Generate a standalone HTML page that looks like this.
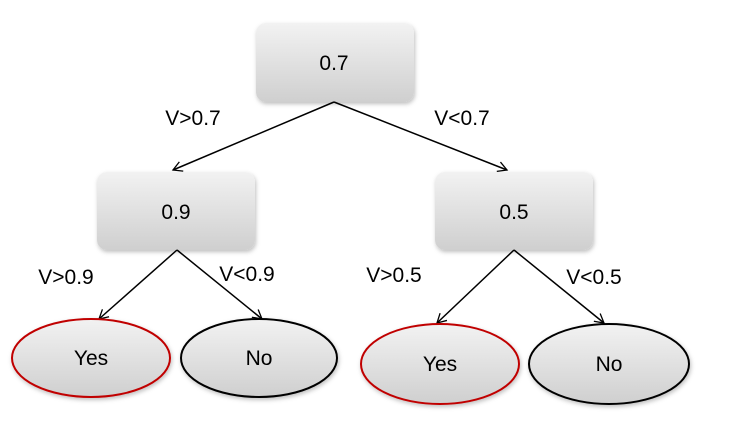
<!DOCTYPE html>
<html><head><style>body{margin:0;background:#fff}</style></head><body>
<svg width="729" height="428" viewBox="0 0 729 428" xmlns="http://www.w3.org/2000/svg" font-family="Liberation Sans, sans-serif">
<defs>
<linearGradient id="g" x1="0" y1="0" x2="0" y2="1"><stop offset="0" stop-color="#f2f2f2"/><stop offset="1" stop-color="#cfcfcf"/></linearGradient>
<filter id="s" x="-10%" y="-10%" width="130%" height="140%"><feDropShadow dx="1" dy="2" stdDeviation="2" flood-color="#000" flood-opacity="0.25"/></filter>
<marker id="a" markerWidth="12" markerHeight="12" refX="10" refY="6" orient="auto" markerUnits="userSpaceOnUse"><path d="M1,1 L10,6 L1,11" fill="none" stroke="#000" stroke-width="1.3"/></marker>
</defs>
<g filter="url(#s)">
<rect x="256" y="23" width="158" height="79" rx="10" fill="url(#g)"/>
<rect x="97" y="172" width="158" height="78" rx="10" fill="url(#g)"/>
<rect x="435" y="172" width="158" height="78" rx="10" fill="url(#g)"/>
</g>
<g stroke="#000" stroke-width="1.5" marker-end="url(#a)">
<line x1="334" y1="102" x2="173" y2="170"/>
<line x1="334" y1="102" x2="507" y2="170"/>
<line x1="177" y1="250" x2="99" y2="319"/>
<line x1="177" y1="250" x2="262" y2="319"/>
<line x1="514" y1="250" x2="437" y2="323"/>
<line x1="514" y1="250" x2="604" y2="323"/>
</g>
<g filter="url(#s)" stroke-width="2">
<ellipse cx="91" cy="358" rx="79" ry="39" fill="url(#g)" stroke="#c00000"/>
<ellipse cx="259" cy="358" rx="78" ry="39" fill="url(#g)" stroke="#000"/>
<ellipse cx="440" cy="364" rx="79" ry="40" fill="url(#g)" stroke="#c00000"/>
<ellipse cx="609" cy="364" rx="80" ry="40" fill="url(#g)" stroke="#000"/>
</g>
<g font-size="21" fill="#000" text-anchor="middle">
<text x="334" y="70">0.7</text>
<text x="176" y="219">0.9</text>
<text x="514" y="219">0.5</text>
<text x="91" y="365">Yes</text>
<text x="259" y="365">No</text>
<text x="440" y="371">Yes</text>
<text x="609" y="371">No</text>
<text x="193" y="125">V&gt;0.7</text>
<text x="462" y="125">V&lt;0.7</text>
<text x="66" y="284">V&gt;0.9</text>
<text x="247" y="281">V&lt;0.9</text>
<text x="394" y="282">V&gt;0.5</text>
<text x="594" y="284">V&lt;0.5</text>
</g>
</svg>
</body></html>
